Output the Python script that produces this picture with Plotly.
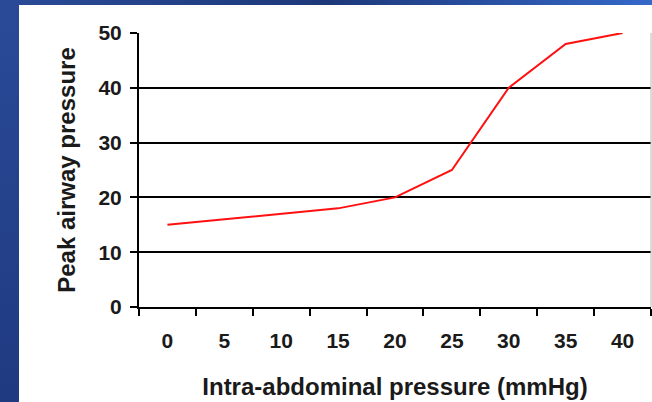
import base64
import plotly.graph_objects as go

# Data
abdominal_pressure = ["0", "5", "10", "15", "20", "25", "30", "35", "40"]
peak_airway_pressure = [15, 16, 17, 18, 20, 25, 40, 48, 50]
y_ticks = [0, 10, 20, 30, 40, 50]

W, H = 652, 402
ML, MR, MT, MB = 139, 1, 33, 95
PW, PH = W - ML - MR, H - MT - MB

FONT = "Liberation Sans, Arial, sans-serif"
TXT = "#1a1a1a"
TICK_SIZE = 21
TITLE_SIZE = 24

svg = f"""<svg xmlns='http://www.w3.org/2000/svg' width='{W}' height='{H}' viewBox='0 0 {W} {H}' preserveAspectRatio='none'>
<defs>
<linearGradient id='t' x1='0' x2='1' y1='0' y2='0'>
<stop offset='0' stop-color='#2b4b98'/><stop offset='0.5' stop-color='#1d3879'/><stop offset='1' stop-color='#3568c9'/>
</linearGradient>
<linearGradient id='l' x1='0' x2='0' y1='0' y2='1'>
<stop offset='0' stop-color='#2a4a98'/><stop offset='1' stop-color='#1f3a80'/>
</linearGradient>
</defs>
<rect x='0' y='0' width='{W}' height='{H}' fill='#ffffff'/>
<rect x='0' y='0' width='{W}' height='5' fill='url(#t)'/>
<rect x='0' y='0' width='19' height='{H}' fill='url(#l)'/>
</svg>"""
src = "data:image/svg+xml;base64," + base64.b64encode(svg.encode()).decode()

fig = go.Figure()
fig.add_trace(go.Scatter(
    x=abdominal_pressure, y=peak_airway_pressure, mode="lines",
    line=dict(color="#ff1010", width=2), showlegend=False, hoverinfo="skip",
))

fig.update_layout(
    width=W, height=H,
    margin=dict(l=ML, r=MR, t=MT, b=MB, pad=0),
    paper_bgcolor="white", plot_bgcolor="rgba(0,0,0,0)",
    font=dict(family=FONT, color=TXT, size=TICK_SIZE, weight="bold"),
    images=[dict(source=src, xref="paper", yref="paper",
                 x=-ML / PW, y=1 + MT / PH, sizex=W / PW, sizey=H / PH,
                 xanchor="left", yanchor="top", sizing="stretch", layer="below")],
    xaxis=dict(
        type="category", categoryorder="array", categoryarray=abdominal_pressure,
        range=[-0.5, len(abdominal_pressure) - 0.5],
        tickson="boundaries", ticks="outside", ticklen=7, tickwidth=2, tickcolor="black",
        showline=True, linecolor="black", linewidth=2, showgrid=False, zeroline=False,
        tickfont=dict(family=FONT, size=TICK_SIZE, color=TXT, weight="bold"),
        ticklabelstandoff=14,
        title=dict(text="Intra-abdominal pressure (mmHg)", standoff=27,
                   font=dict(family=FONT, size=TITLE_SIZE, color=TXT, weight="bold")),
        automargin=False, fixedrange=True,
    ),
    yaxis=dict(
        range=[0, 50], tickvals=y_ticks, ticktext=[str(v) for v in y_ticks],
        ticks="outside", ticklen=7, tickwidth=2, tickcolor="black",
        showline=True, linecolor="black", linewidth=2,
        showgrid=True, gridcolor="black", gridwidth=2, zeroline=False,
        tickfont=dict(family=FONT, size=TICK_SIZE, color=TXT, weight="bold"),
        ticklabelstandoff=4,
        title=dict(text="Peak airway pressure", standoff=16,
                   font=dict(family=FONT, size=TITLE_SIZE, color=TXT, weight="bold")),
        automargin=False, fixedrange=True,
    ),
    shapes=[dict(type="line", xref="paper", yref="paper", x0=1, x1=1, y0=0, y1=1,
                 line=dict(color="#b8b8b8", width=1))],
)

fig.write_html("out.html", config={"displayModeBar": False})
